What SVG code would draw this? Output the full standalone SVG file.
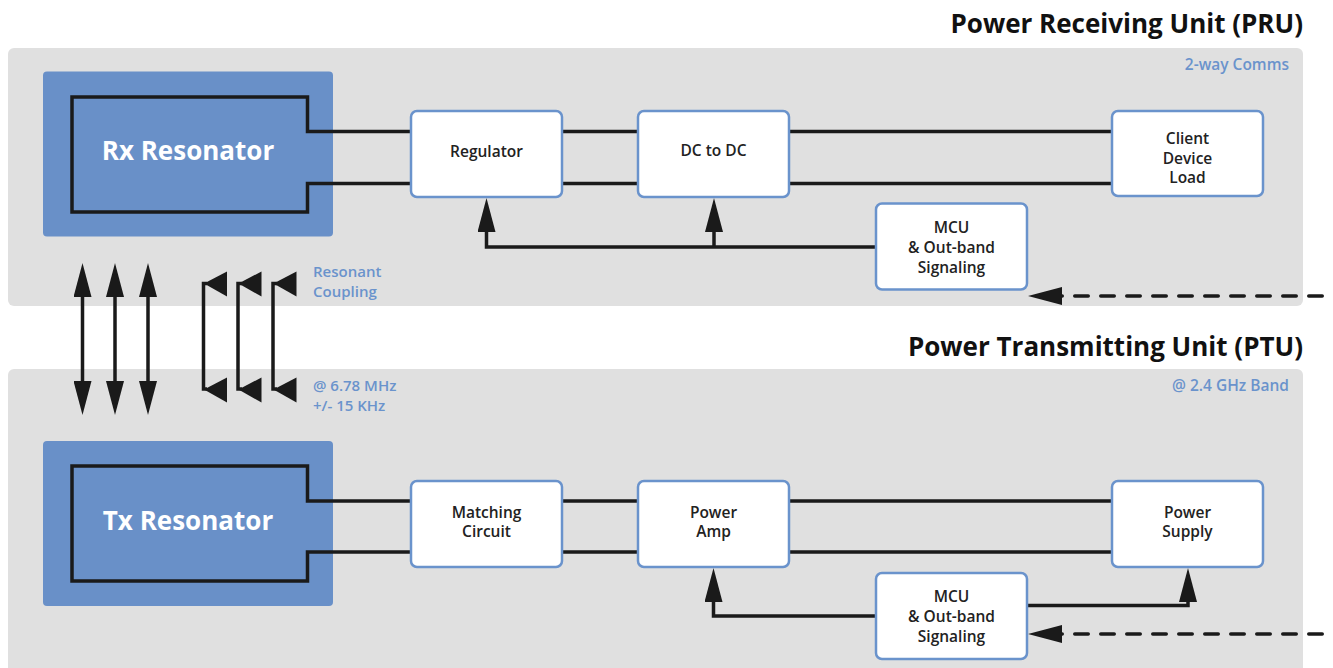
<svg xmlns="http://www.w3.org/2000/svg" width="1333" height="668" viewBox="0 0 1333 668">
<style>
.panel{fill:#e0e0e0}
.head{font-family:"Open Sans","Liberation Sans",sans-serif;font-weight:700;font-size:26px;fill:#111;text-anchor:end}
.note{font-family:"Open Sans","Liberation Sans",sans-serif;font-weight:600;font-size:15px;fill:#6a93cc}
.noteR{text-anchor:end;font-size:15.5px}
.res{fill:#6990c8}
.resT{font-family:"Open Sans","Liberation Sans",sans-serif;font-weight:700;font-size:26px;fill:#fff;text-anchor:middle}
.box{fill:#fff;stroke:#6a93cc;stroke-width:2.5}
.lbl{font-family:"Open Sans","Liberation Sans",sans-serif;font-weight:600;font-size:15.5px;fill:#222;text-anchor:middle}
.w{fill:none;stroke:#1a1a1a;stroke-width:3.5}
.d{fill:none;stroke:#1a1a1a;stroke-width:3.5;stroke-linecap:round;stroke-dasharray:13.5 12.5;stroke-dashoffset:8.25}
.ah{fill:#1a1a1a}
</style>
<defs>
<marker id="arr" viewBox="0 0 34 18" refX="24" refY="9" markerWidth="34" markerHeight="18" markerUnits="userSpaceOnUse" orient="auto-start-reverse">
<path d="M0,0 L34,9 L0,18 Z" fill="#1a1a1a"/>
</marker>
</defs>

<g id="panels">
<rect class="panel" x="8" y="48" width="1295" height="258" rx="6"/>
<rect class="panel" x="8" y="369" width="1295" height="310" rx="6"/>
<text class="head" x="1303" y="33">Power Receiving Unit (PRU)</text>
<text class="head" x="1303" y="356">Power Transmitting Unit (PTU)</text>
<text class="note noteR" x="1289" y="70">2-way Comms</text>
<text class="note noteR" x="1289" y="391">@ 2.4 GHz Band</text>
<text class="note" x="313" y="276.5">Resonant</text>
<text class="note" x="313" y="296.5">Coupling</text>
<text class="note" x="313" y="391">@ 6.78 MHz</text>
<text class="note" x="313" y="411">+/- 15 KHz</text>
</g>

<g id="rx-resonator">
<rect class="res" x="43" y="71.5" width="290" height="165" rx="4"/>
<text class="resT" x="188" y="160">Rx Resonator</text>
</g>
<g id="tx-resonator">
<rect class="res" x="43" y="441" width="290" height="165" rx="4"/>
<text class="resT" x="188" y="530">Tx Resonator</text>
</g>

<g id="connectors">
<path class="w" d="M410,131.5 H307.5 V97 H72 V212 H307.5 V183.5 H410"/>
<path class="w" d="M410,501 H307.5 V466 H72 V581 H307.5 V552 H410"/>
<path class="w" d="M562,131.5 H638 M562,183.5 H638 M789,131.5 H1112 M789,183.5 H1112"/>
<path class="w" d="M562,501 H638 M562,552 H638 M789,501 H1112 M789,552 H1112"/>
<path class="w" d="M876,247 H486.5 V208" marker-end="url(#arr)"/>
<path class="w" d="M714,247 V208" marker-end="url(#arr)"/>
<path class="w" d="M876,616 H713.5 V578" marker-end="url(#arr)"/>
<path class="w" d="M1027,605.5 H1188 V578" marker-end="url(#arr)"/>
<path class="d" d="M1340,296 H1038" marker-end="url(#arr)"/>
<path class="d" d="M1340,634 H1038" marker-end="url(#arr)"/>
<path class="w" d="M82.5,273 V405" marker-start="url(#arr)" marker-end="url(#arr)"/>
<path class="w" d="M115,273 V405" marker-start="url(#arr)" marker-end="url(#arr)"/>
<path class="w" d="M148,273 V405" marker-start="url(#arr)" marker-end="url(#arr)"/>
<path class="w" d="M207,283.5 H203.5 V389 H207"/>
<path class="w" d="M242,283.5 H238 V389 H242"/>
<path class="w" d="M277,283.5 H273 V389 H277"/>
<polygon class="ah" points="204,283.5 227,271.5 227,296.5"/>
<polygon class="ah" points="204,389.5 227,377.5 227,402.5"/>
<polygon class="ah" points="238.5,283.5 261.5,271.5 261.5,296.5"/>
<polygon class="ah" points="238.5,389.5 261.5,377.5 261.5,402.5"/>
<polygon class="ah" points="273.5,283.5 296.5,271.5 296.5,296.5"/>
<polygon class="ah" points="273.5,389.5 296.5,377.5 296.5,402.5"/>
</g>

<g id="regulator">
<rect class="box" x="411" y="111" width="151" height="86" rx="6"/>
<text class="lbl" x="486.5" y="157">Regulator</text>
</g>
<g id="dc-to-dc">
<rect class="box" x="638" y="111" width="151" height="86" rx="6"/>
<text class="lbl" x="713.5" y="156">DC to DC</text>
</g>
<g id="client-device-load">
<rect class="box" x="1112" y="111" width="151" height="85" rx="6"/>
<text class="lbl" x="1187.5" y="144">Client</text>
<text class="lbl" x="1187.5" y="163.5">Device</text>
<text class="lbl" x="1187.5" y="183">Load</text>
</g>
<g id="mcu-pru">
<rect class="box" x="876" y="203.5" width="151" height="86" rx="6"/>
<text class="lbl" x="951.5" y="233">MCU</text>
<text class="lbl" x="951.5" y="253">&amp; Out-band</text>
<text class="lbl" x="951.5" y="272.5">Signaling</text>
</g>
<g id="matching-circuit">
<rect class="box" x="411" y="481" width="151" height="86" rx="6"/>
<text class="lbl" x="486.5" y="517.5">Matching</text>
<text class="lbl" x="486.5" y="537">Circuit</text>
</g>
<g id="power-amp">
<rect class="box" x="638" y="481" width="151" height="86" rx="6"/>
<text class="lbl" x="713.5" y="517.5">Power</text>
<text class="lbl" x="713.5" y="537">Amp</text>
</g>
<g id="power-supply">
<rect class="box" x="1112" y="481" width="151" height="86" rx="6"/>
<text class="lbl" x="1187.5" y="517.5">Power</text>
<text class="lbl" x="1187.5" y="537">Supply</text>
</g>
<g id="mcu-ptu">
<rect class="box" x="876" y="573" width="151" height="86" rx="6"/>
<text class="lbl" x="951.5" y="602">MCU</text>
<text class="lbl" x="951.5" y="622">&amp; Out-band</text>
<text class="lbl" x="951.5" y="642">Signaling</text>
</g>
</svg>
